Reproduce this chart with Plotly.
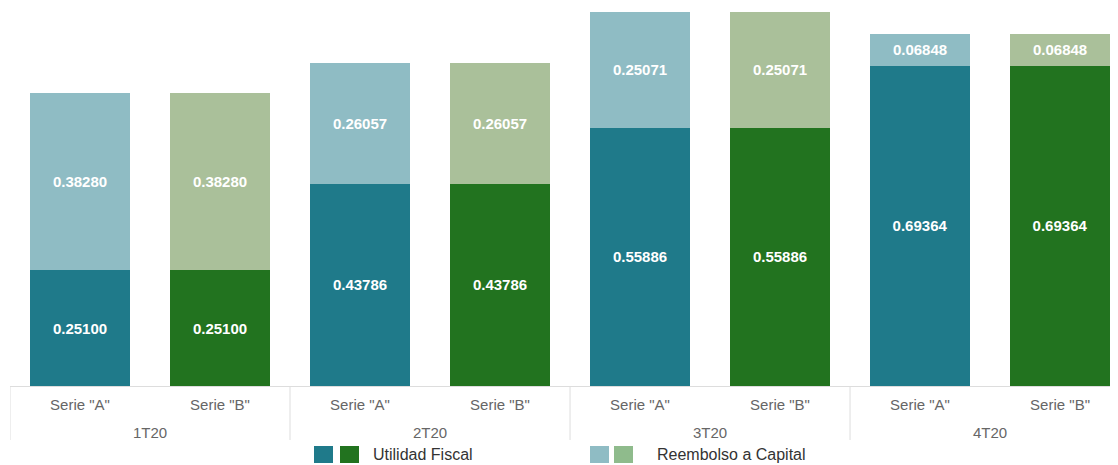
import plotly.graph_objects as go

quarters = ["1T20", "2T20", "3T20", "4T20"]
series = ['Serie "A"', 'Serie "B"']
utilidad = [0.25100, 0.43786, 0.55886, 0.69364]
reembolso = [0.38280, 0.26057, 0.25071, 0.06848]

col_util = {'Serie "A"': "#1f7a8a", 'Serie "B"': "#22731f"}
col_reem = {'Serie "A"': "#8fbcc4", 'Serie "B"': "#aac09a"}
legend_cols = [("#1f7a8a", "#22731f", "Utilidad Fiscal"),
               ("#8fbcc4", "#8fbb8c", "Reembolso a Capital")]

FONT = "Liberation Sans, Arial"
# page body has an 8px margin: figure starts at (8, 8) in the window
OFF = 8
W, H = 1118 - OFF, 465 - OFF
BASE_Y = 386          # axis baseline in window pixels
LEFT_X = 10           # plot left edge in window pixels
ML, MR, MT = LEFT_X - OFF, 0, 0
MB = 465 - BASE_Y
PX_PER_UNIT = 462

n_s = len(series)
pos = list(range(len(quarters) * n_s))
tick_text = [s for q in quarters for s in series]

fig = go.Figure()
for values, cols in [(utilidad, col_util), (reembolso, col_reem)]:
    for si, s in enumerate(series):
        xs = [qi * n_s + si for qi in range(len(quarters))]
        fig.add_trace(go.Bar(
            x=xs, y=values,
            text=[f"<b>{v:.5f}</b>" for v in values], texttemplate="%{text}",
            textposition="inside", insidetextanchor="middle",
            textangle=0, constraintext="none",
            textfont=dict(color="white", size=15, family=FONT),
            marker=dict(color=cols[s], line=dict(width=0)),
            width=0.715, showlegend=False, hoverinfo="skip",
        ))

plot_w = W - ML - MR
plot_h = H - MT - MB


def px_x(px):
    return (px - LEFT_X) / plot_w


def px_y(py):
    return (BASE_Y - py) / plot_h


shapes = []
annotations = []

# group dividers below the axis
for qi in range(len(quarters)):
    xb = qi * n_s - 0.5
    shapes.append(dict(type="line", xref="x", yref="paper",
                       x0=xb, x1=xb, y0=px_y(BASE_Y), y1=px_y(440),
                       line=dict(color="#dddddd", width=1)))
# quarter labels
for qi, q in enumerate(quarters):
    annotations.append(dict(xref="x", yref="paper", x=qi * n_s + (n_s - 1) / 2,
                            y=px_y(432), text=q, showarrow=False,
                            xanchor="center", yanchor="middle",
                            font=dict(size=15, color="#666666", family=FONT)))

# legend
legend_items = [(314, 340, 371), (590, 614, 655)]
for (x1, x2, xt), (c1, c2, label) in zip(legend_items, legend_cols):
    for xx, c in [(x1, c1), (x2, c2)]:
        shapes.append(dict(type="rect", xref="paper", yref="paper",
                           x0=px_x(xx), x1=px_x(xx + 19),
                           y0=px_y(463), y1=px_y(446),
                           fillcolor=c, line=dict(width=0)))
    annotations.append(dict(xref="paper", yref="paper", x=px_x(xt), y=px_y(454.5),
                            text=label, showarrow=False, xanchor="left", yanchor="middle",
                            font=dict(size=16, color="#333333", family=FONT)))

fig.update_layout(
    width=W, height=H,
    margin=dict(l=ML, r=MR, t=MT, b=MB, autoexpand=False),
    barmode="stack",
    plot_bgcolor="white", paper_bgcolor="white",
    shapes=shapes, annotations=annotations,
    xaxis=dict(range=[-0.5, 7.414], tickmode="array", tickvals=pos, ticktext=tick_text,
               showline=True, linecolor="#dddddd", linewidth=1,
               ticks="", showgrid=False, zeroline=False, automargin=False,
               ticklabelstandoff=5,
               tickfont=dict(size=15, color="#666666", family=FONT)),
    yaxis=dict(range=[0, plot_h / PX_PER_UNIT], visible=False, showgrid=False, zeroline=False),
)

fig.write_html("out.html")
